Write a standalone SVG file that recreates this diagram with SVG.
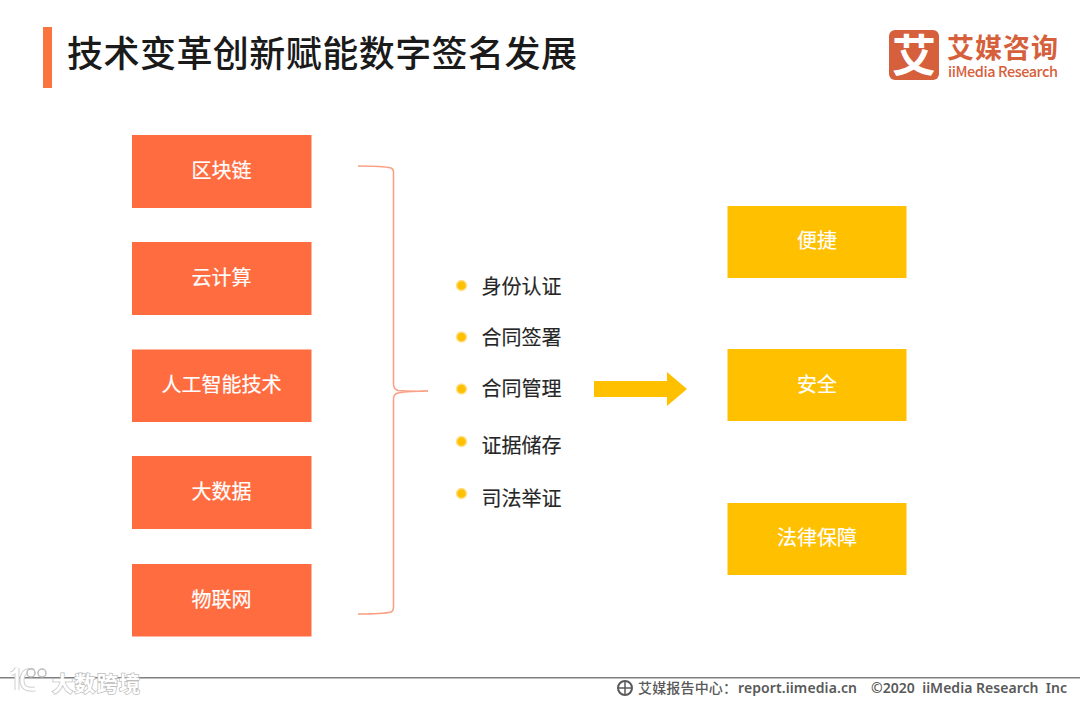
<svg xmlns="http://www.w3.org/2000/svg" width="1080" height="702" viewBox="0 0 1080 702">
<style>
text{font-family:"Noto Sans CJK SC","Liberation Sans",sans-serif}
.o{fill:#ff6c40}.y{fill:#ffc000}
.n{font-size:20px;fill:#fff;text-anchor:middle;stroke:#fff;stroke-width:.2}
.l{font-size:20px;fill:#262626;stroke:#262626;stroke-width:.15}
.d{fill:#ffc000;stroke:#ffe08a;stroke-width:1.5}
.en{font-family:"Noto Sans",sans-serif;font-weight:600}
</style>
<rect width="1080" height="702" fill="#fff"/>
<rect x="43" y="27" width="9" height="61" fill="#f9743f"/>
<text x="67" y="67" font-size="36" font-weight="500" fill="#1a1a1a" textLength="510" lengthAdjust="spacing">技术变革创新赋能数字签名发展</text>
<g id="logo">
<rect x="889" y="30" width="50" height="50" rx="6" fill="#d5603b"/>
<text x="914" y="72" font-size="44" font-weight="700" fill="#fff" text-anchor="middle">艾</text>
<text x="947" y="58" font-size="27" font-weight="700" fill="#d5603b" textLength="111">艾媒咨询</text>
<text x="948" y="76.500" font-size="14.500" font-weight="500" fill="#d5603b" font-family="Noto Sans" textLength="110">iiMedia Research</text>
</g>
<g id="n1"><rect class="o" x="132" y="135" width="179.500" height="73"/><text class="n" x="221.500" y="178">区块链</text></g>
<g id="n2"><rect class="o" x="132" y="242" width="179.500" height="73"/><text class="n" x="221.500" y="285">云计算</text></g>
<g id="n3"><rect class="o" x="132" y="349.500" width="179.500" height="72.500"/><text class="n" x="221.500" y="392">人工智能技术</text></g>
<g id="n4"><rect class="o" x="132" y="456" width="179.500" height="73"/><text class="n" x="221.500" y="499">大数据</text></g>
<g id="n5"><rect class="o" x="132" y="564" width="179.500" height="72.500"/><text class="n" x="221.500" y="606.500">物联网</text></g>
<g id="connectors">
<path d="M358 166C375 166 387 167 391 168Q393.500 169 393.500 172V384Q393.500 389 398 390.500Q410 391.500 428 391Q410 391 398 393Q393.500 394 393.500 399V607Q393.500 611 391 612C387 613 375 614 358 614" fill="none" stroke="#fa9f83" stroke-width="1.500"/>
<path d="M594 381H667V372L687 389L667 406V397H594Z" fill="#ffc000"/>
</g>
<g id="list">
<circle class="d" cx="461.500" cy="285.500" r="5"/><text class="l" x="481.500" y="294">身份认证</text>
<circle class="d" cx="461.500" cy="337" r="5"/><text class="l" x="481.500" y="345">合同签署</text>
<circle class="d" cx="461.500" cy="389" r="5"/><text class="l" x="481.500" y="396">合同管理</text>
<circle class="d" cx="461.500" cy="441.500" r="5"/><text class="l" x="481.500" y="453">证据储存</text>
<circle class="d" cx="461.500" cy="493.500" r="5"/><text class="l" x="481.500" y="506">司法举证</text>
</g>
<g id="r1"><rect class="y" x="727.500" y="206" width="179" height="72"/><text class="n" x="817" y="248">便捷</text></g>
<g id="r2"><rect class="y" x="727.500" y="349" width="179" height="72"/><text class="n" x="817" y="392">安全</text></g>
<g id="r3"><rect class="y" x="727.500" y="503" width="179" height="72"/><text class="n" x="817" y="545">法律保障</text></g>
<rect x="0" y="677" width="1080" height="1.500" fill="#7f7f7f"/>
<g id="watermark">
<text x="52" y="691" font-size="21" font-weight="700" textLength="88" fill="#fff" stroke="#bdbdbd" stroke-width="1.500" paint-order="stroke">大数跨境</text>
<path d="M11 674Q16 672 17 668V690M34 671Q23 668 22 680Q22 691 35 689" fill="none" stroke="#cfcfcf" stroke-width="5"/>
<path d="M11 674Q16 672 17 668V690M34 671Q23 668 22 680Q22 691 35 689" fill="none" stroke="#fff" stroke-width="3"/>
<circle cx="31" cy="673" r="4" fill="#fff" stroke="#bdbdbd" stroke-width="1.500"/><circle cx="42" cy="673" r="4" fill="#fff" stroke="#bdbdbd" stroke-width="1.500"/>
</g>
<g id="footer" fill="#595959">
<circle cx="625" cy="688" r="7" fill="none" stroke="#595959" stroke-width="2"/>
<path d="M618 688H632M625 681V695" stroke="#595959" stroke-width="1.500" fill="none"/>
<text x="638" y="693" font-size="14" font-weight="500" textLength="99">艾媒报告中心：</text>
<text x="738" y="693" font-size="14" class="en" textLength="119">report.iimedia.cn</text>
<text x="871" y="693" font-size="14" class="en" textLength="196" xml:space="preserve">©2020  iiMedia Research  Inc</text>
</g>
</svg>
